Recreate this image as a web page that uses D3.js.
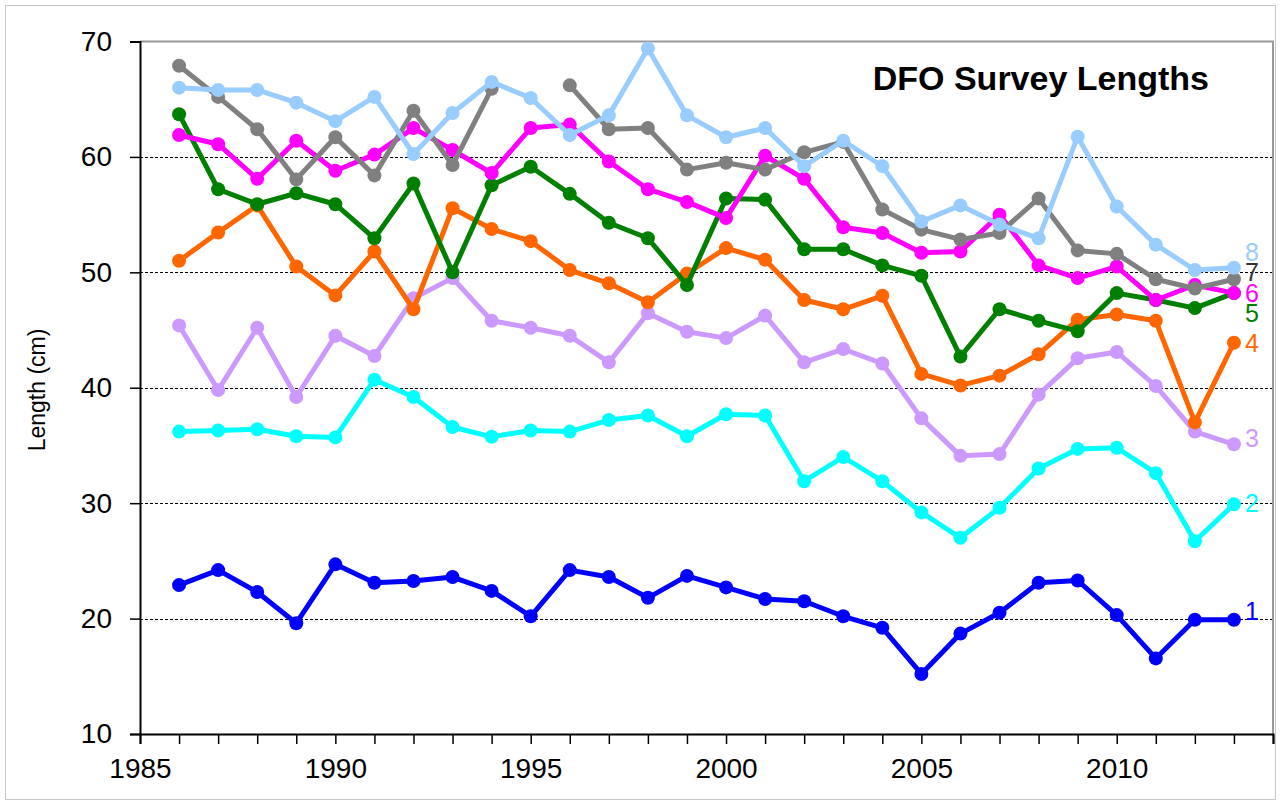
<!DOCTYPE html>
<html>
<head>
<meta charset="utf-8">
<script src="https://cdn.jsdelivr.net/npm/d3@7"></script>
<style>
  html, body { margin: 0; padding: 0; background: #fff; }
  svg { display: block; font-family: "Liberation Sans", Arial, sans-serif; }
</style>
</head>
<body>
<svg id="chart" width="1281" height="806"></svg>
<script>
// ---- data ----
const years = [1986,1987,1988,1989,1990,1991,1992,1993,1994,1995,1996,1997,1998,1999,
               2000,2001,2002,2003,2004,2005,2006,2007,2008,2009,2010,2011,2012,2013];
const seriesNames = ["1","2","3","4","5","6","7","8"];
const s1 = [22.9,24.2,22.3,19.6,24.7,23.1,23.25,23.6,22.4,20.2,24.2,23.6,21.8,23.7,22.7,21.7,21.5,20.2,19.2,15.2,18.7,20.5,23.1,23.3,20.3,16.55,19.9,19.9];
const s2 = [36.2,36.3,36.4,35.8,35.7,40.7,39.2,36.6,35.75,36.3,36.2,37.2,37.6,35.8,37.7,37.6,31.9,34.0,31.9,29.2,27.0,29.6,33.0,34.7,34.8,32.6,26.7,29.9];
const s3 = [45.4,39.8,45.2,39.2,44.5,42.75,47.75,49.5,45.8,45.2,44.5,42.2,46.45,44.85,44.3,46.25,42.2,43.35,42.1,37.35,34.1,34.25,39.4,42.55,43.1,40.15,36.2,35.1];
const s4 = [51.0,53.45,55.8,50.5,48.0,51.8,46.8,55.55,53.75,52.7,50.2,49.05,47.4,49.9,52.1,51.1,47.6,46.8,47.97,41.2,40.2,41.05,42.9,45.9,46.35,45.8,37.0,43.9];
const s5 = [63.7,57.2,55.9,56.85,55.9,52.95,57.7,50.0,57.55,59.15,56.8,54.3,52.95,48.9,56.4,56.3,52.0,52.0,50.6,49.7,42.7,46.8,45.8,44.9,48.2,47.6,46.9,48.2];
const s6 = [61.9,61.1,58.1,61.4,58.8,60.2,62.5,60.6,58.6,62.5,62.8,59.6,57.2,56.1,54.7,60.1,58.1,53.9,53.4,51.7,51.8,55.0,50.6,49.5,50.5,47.6,48.9,48.2];
const s7 = [67.9,65.2,62.4,58.05,61.7,58.4,64.0,59.3,65.9,null,66.2,62.4,62.5,58.9,59.5,58.9,60.4,61.3,55.45,53.7,52.85,53.4,56.4,51.9,51.6,49.4,48.6,49.4];
const s8 = [66.0,65.8,65.8,64.7,63.1,65.2,60.25,63.8,66.5,65.1,61.9,63.6,69.4,63.6,61.7,62.5,59.2,61.4,59.2,54.4,55.8,54.15,52.95,61.75,55.7,52.4,50.2,50.4];
const yTicks = [10,20,30,40,50,60,70];
const xLabelYears = [1985,1990,1995,2000,2005,2010];
const titleText = "DFO Survey Lengths";
const yAxisTitle = "Length (cm)";

// ---- styling ----
const colors = ["#0000FF","#00FFFF","#CC99FF","#FF6600","#008000","#FF00FF","#808080","#99CCFF"];
const labelColors = ["#0000FF","#00FFFF","#CC99FF","#FF6600","#008000","#FF00FF","#333333","#99CCFF"];
const labelNudge = [-8,-1,-6,1,20,0,-7,-15];   // vertical px offsets of end labels

const allSeries = [s1,s2,s3,s4,s5,s6,s7,s8];
const margin = {left:140, right:1273, top:41.5, bottom:734};

const svg = d3.select("#chart");
// outer chart border
svg.append("rect").attr("x",5.5).attr("y",5.5).attr("width",1270).attr("height",794)
  .attr("fill","#fff").attr("stroke","#c8c8c8").attr("stroke-width",1);

const x = d3.scaleLinear().domain([1985,2014]).range([margin.left, margin.right]);
const y = d3.scaleLinear().domain([10,70]).range([margin.bottom, margin.top]);

// gridlines
svg.append("g").selectAll("line").data(yTicks.filter(t => t>10 && t<70)).join("line")
  .attr("x1",margin.left).attr("x2",margin.right)
  .attr("y1",d=>Math.round(y(d))+0.5).attr("y2",d=>Math.round(y(d))+0.5)
  .attr("stroke","#000").attr("stroke-width",1).attr("stroke-dasharray","3,2");

// plot border top/right
svg.append("path")
  .attr("d",`M${margin.left},${margin.top}H${margin.right}V${margin.bottom}`)
  .attr("fill","none").attr("stroke","#999").attr("stroke-width",2);

// y axis
const yAxis = d3.axisLeft(y).tickValues(yTicks).tickSize(10).tickPadding(18).tickFormat(d3.format("d"));
const gy = svg.append("g").attr("transform",`translate(${margin.left},0)`).call(yAxis);
gy.select(".domain").attr("stroke","#000").attr("stroke-width",2);
gy.selectAll(".tick line").attr("stroke","#000").attr("stroke-width",1.5);
gy.selectAll(".tick text").attr("font-size",28).attr("fill","#000")
  .attr("font-family","'Liberation Sans', Arial, sans-serif");

// x axis
const xTickVals = d3.range(1985, 2015);
const xAxis = d3.axisBottom(x).tickValues(xTickVals).tickSize(10).tickPadding(14)
  .tickFormat(d => xLabelYears.includes(d) ? String(d) : "");
const gx = svg.append("g").attr("transform",`translate(0,${margin.bottom})`).call(xAxis);
gx.select(".domain").attr("stroke","#000").attr("stroke-width",2);
gx.selectAll(".tick line").attr("stroke","#000").attr("stroke-width",1.5);
gx.selectAll(".tick text").attr("font-size",28).attr("fill","#000")
  .attr("font-family","'Liberation Sans', Arial, sans-serif");

// lines and markers
const line = d3.line().defined(d => d.v !== null).x(d => x(d.year)).y(d => y(d.v));
allSeries.forEach((s,i) => {
  const pts = years.map((yr,j) => ({year:yr, v:s[j]}));
  const g = svg.append("g");
  g.append("path").datum(pts).attr("d",line).attr("fill","none")
    .attr("stroke",colors[i]).attr("stroke-width",5).attr("stroke-linejoin","round");
  g.selectAll("circle").data(pts.filter(d=>d.v!==null)).join("circle")
    .attr("cx",d=>x(d.year)).attr("cy",d=>y(d.v)).attr("r",7).attr("fill",colors[i]);
});

// end labels
allSeries.forEach((s,i) => {
  const last = s[s.length-1];
  svg.append("text").attr("x", x(years[years.length-1]) + 11)
    .attr("y", y(last) + labelNudge[i]).attr("dy","0.35em")
    .attr("font-size",25).attr("fill",labelColors[i]).text(seriesNames[i]);
});

// title
svg.append("text").attr("x",1209).attr("y",90).attr("text-anchor","end")
  .attr("font-size",34).attr("font-weight","bold").attr("fill","#000").text(titleText);

// y axis title
svg.append("text").attr("transform","translate(45,390) rotate(-90)")
  .attr("text-anchor","middle").attr("font-size",23).attr("fill","#000").text(yAxisTitle);
</script>
</body>
</html>
